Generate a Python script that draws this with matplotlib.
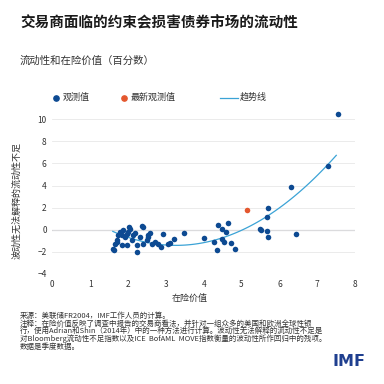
import matplotlib.pyplot as plt
from matplotlib.lines import Line2D
import numpy as np

plt.rcParams['font.family'] = ['Noto Sans CJK SC', 'DejaVu Sans']

# Observaciones (en riesgo x, iliquidez no explicada y)
obs_x = [1.60, 1.63, 1.66, 1.70, 1.70, 1.74, 1.80, 1.83, 1.83, 1.88, 1.92, 1.97, 1.97,
         2.00, 2.03, 2.05, 2.10, 2.14, 2.18, 2.23, 2.25, 2.32, 2.36, 2.39, 2.41, 2.49,
         2.54, 2.54, 2.58, 2.63, 2.71, 2.80, 2.87, 2.93, 3.07, 3.11, 3.22, 3.49,
         4.00, 4.26, 4.34, 4.38, 4.47, 4.49, 4.54, 4.59, 4.65, 4.73, 4.83,
         5.48, 5.51, 5.68, 5.68, 5.71, 5.71, 6.31, 6.44, 7.29, 7.55]
obs_y = [-1.75, -1.85, -1.25, -0.89, -1.10, -0.50, -0.20, -0.50, -1.40, -0.05, -0.65, -0.35, -1.40,
         -0.20, 0.25, 0.10, -0.95, -0.50, -0.30, -1.40, -2.03, -0.65, 0.30, 0.25, -1.25, -0.95,
         -0.65, -0.50, -0.29, -1.25, -1.10, -1.25, -1.60, -0.41, -1.25, -1.16, -0.83, -0.29,
         -0.71, -1.07, -1.83, 0.47, 0.08, -0.86, -1.07, -0.17, 0.59, -1.16, -1.73,
         0.10, -0.02, -0.07, 1.16, 1.97, -0.68, 3.87, -0.38, 5.72, 10.43]

# Último dato
last_x = [5.14]
last_y = [1.83]

coef = np.polyfit(obs_x, obs_y, 2)
trend_x = np.linspace(1.6, 7.5, 100)
trend_y = np.polyval(coef, trend_x)

blue = '#0d4a92'
orange = '#e4572e'
light = '#3ba3d6'
txt = '#333333'

fig = plt.figure(figsize=(3.84, 3.84), dpi=100)
ax = fig.add_axes([0.136, 0.2865, 0.789, 0.432])

ax.plot(trend_x, trend_y, color=light, lw=0.9, zorder=2)
ax.scatter(obs_x, obs_y, s=16, color=blue, zorder=3, linewidths=0)
ax.scatter(last_x, last_y, s=16, color=orange, zorder=3, linewidths=0)

ax.set_xlim(0, 8)
ax.set_ylim(-4, 11)
ax.set_xticks(range(0, 9))
ax.set_yticks(range(-4, 11, 2))
ax.grid(axis='y', color='#e8e8e8', lw=0.6)
ax.axhline(0, color='#9a9aa6', lw=0.8, zorder=1)
for s in ax.spines.values():
    s.set_visible(False)
ax.tick_params(length=0, labelsize=6, colors=txt, pad=4)
ax.set_xlabel('在险价值', fontsize=6.5, color=txt)
ax.set_ylabel('波动性无法解释的流动性不足', fontsize=6.5, color=txt)
ax.xaxis.set_label_coords(0.452, -0.12)
ax.yaxis.set_label_coords(-0.1, 0.44)

# leyenda manual
ly = 1 - 97.5 / 384
fig.add_artist(Line2D([56 / 384], [ly], marker='o', ms=3.8, color=blue, lw=0))
fig.text(63 / 384, ly, '观测值', fontsize=6.5, color=txt, va='center')
fig.add_artist(Line2D([124 / 384], [ly], marker='o', ms=3.8, color=orange, lw=0))
fig.text(131 / 384, ly, '最新观测值', fontsize=6.5, color=txt, va='center')
fig.add_artist(Line2D([220 / 384, 238 / 384], [ly, ly], color=light, lw=0.9))
fig.text(240 / 384, ly, '趋势线', fontsize=6.5, color=txt, va='center')

fig.text(0.052, 0.942, '交易商面临的约束会损害债券市场的流动性', fontsize=10.5,
         fontweight='bold', color='#1a1a1a', va='center')
fig.text(0.052, 0.843, '流动性和在险价值（百分数）', fontsize=7.5, color=txt, va='center')

notes = ['来源：美联储FR2004，IMF工作人员的计算。',
         '注释：在险价值反映了调查中报告的交易商看法，并针对一组众多的美国和欧洲全球性银',
         '行，使用Adrian和Shin（2014年）中的一种方法进行计算。波动性无法解释的流动性不足是',
         '对Bloomberg流动性不足指数以及ICE  BofAML  MOVE指数衡量的波动性所作回归中的残项。',
         '数据是季度数据。']
for i, t in enumerate(notes):
    fig.text(0.052, 1 - (316 + i * 7.6) / 384, t, fontsize=5.4, color=txt, va='center')

fig.text(0.952, 1 - 362 / 384, 'IMF', fontsize=11.5, fontweight='bold', color='#1f3f8f',
         ha='right', va='center', family='DejaVu Sans')

fig.savefig('out.png', dpi=100)
